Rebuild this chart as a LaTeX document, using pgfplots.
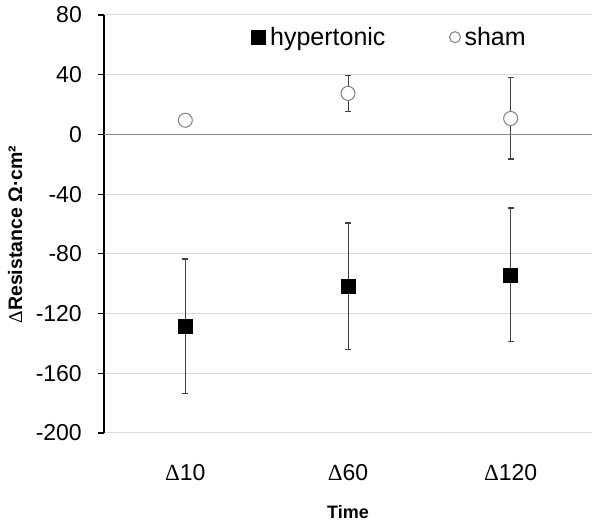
\documentclass[border=0pt]{standalone}
\usepackage{pgfplots}
\pgfplotsset{compat=1.18}
\usepackage{fontspec}
\setmainfont{Liberation Sans}
\newfontfamily\symf{Liberation Serif}
\definecolor{gridc}{HTML}{D9D9D9}
\definecolor{zeroc}{HTML}{868686}
\definecolor{errc}{HTML}{404040}
\definecolor{circc}{HTML}{7F7F7F}
\pgfplotsset{
  legsq/.style={legend image code/.code={\path[draw=none] (0pt,0pt) -- (17pt,0pt); \draw[##1] plot coordinates {(7pt,0pt)};}},
  legci/.style={legend image code/.code={\path[draw=none] (0pt,0pt) -- (13pt,0pt); \draw[##1, mark size=5.5pt] plot coordinates {(5.5pt,0pt)};}},
}
\begin{document}
\begin{tikzpicture}
\begin{axis}[
  scale only axis,
  width=488pt, height=418pt,
  xmin=-0.5, xmax=2.5,
  ymin=-200, ymax=80,
  ytick={-200,-160,-120,-80,-40,0,40,80},
  xtick={0,1,2},
  xticklabels={{\symf\char"0394}10,{\symf\char"0394}60,{\symf\char"0394}120},
  axis x line*=bottom,
  x axis line style={draw=none},
  xtick style={draw=none},
  axis y line*=left,
  y axis line style={black, line width=1.5pt},
  ytick style={black, line width=1.2pt},
  tick align=outside,
  major tick length=6pt,
  ymajorgrids,
  grid style={gridc, line width=1pt},
  /pgf/number format/assume math mode=true,
  tick label style={font=\fontsize{23}{27}\selectfont, text=black},
  yticklabel style={inner sep=0pt, anchor=east, xshift=-16pt},
  xticklabel style={inner sep=0pt, anchor=north, yshift=-25pt},
  xlabel={Time},
  xlabel style={at={(axis description cs:0.5,0)}, anchor=north, inner sep=0pt, yshift=-72pt, font=\bfseries\fontsize{18}{21}\selectfont},
  ylabel={{\symf\mdseries\char"0394}Resistance Ω·cm²},
  ylabel style={at={(axis description cs:-0.197,0.475)}, anchor=north, inner sep=0pt, font=\bfseries\fontsize{19.5}{24}\selectfont},
  legend style={draw=none, fill=none, at={(axis description cs:0.295,0.947)}, anchor=west,
    font=\fontsize{25}{29}\selectfont, legend columns=2,
    /tikz/every even column/.append style={column sep=62pt}},
  clip=false,
]
\addplot[only marks, mark=square*, mark size=7pt, black, legsq,
  error bars/.cd, y dir=both, y explicit,
  error bar style={errc, line width=1pt},
  error mark options={errc, line width=1.5pt, mark size=3pt, rotate=90}]
  table[x=x, y=y, y error=e] {
x y e
0 -128.5 45
1 -101.6 42.4
2 -94 44.7
};
\addlegendentry{hypertonic}
\addplot[only marks, mark=*, mark size=7pt, mark options={draw=circc, fill=white, line width=1pt}, legci,
  error bars/.cd, y dir=both, y explicit,
  error bar style={errc, line width=1pt},
  error mark options={errc, line width=1.5pt, mark size=3pt, rotate=90}]
  table[x=x, y=y, y error=e] {
x y e
0 9.5 0
1 27.5 12
2 10.7 27.3
};
\addlegendentry{sham}
\draw[zeroc, line width=1.2pt] (axis cs:-0.5,0) -- (axis cs:2.5,0);
\end{axis}
\pgfresetboundingbox
\path ([shift={(-104pt,-93pt)}]current axis.south west) rectangle ([shift={(8pt,15pt)}]current axis.north east);
\end{tikzpicture}
\end{document}
